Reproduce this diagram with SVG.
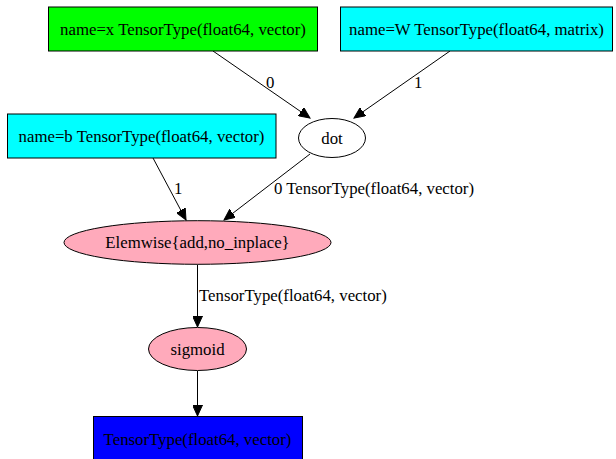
<svg xmlns="http://www.w3.org/2000/svg" width="616" height="459" viewBox="0 0 616 459">
<style>
text{font-family:"Liberation Serif","Times New Roman",serif;font-size:16.8px;fill:#000}
.n text{text-anchor:middle}
.box{stroke:#000;stroke-width:1}
.ell{stroke:#000;stroke-width:1}
.e path{fill:none;stroke:#000;stroke-width:1}
</style>
<defs>
<marker id="arr" markerUnits="userSpaceOnUse" markerWidth="12" markerHeight="10" refX="11" refY="5" orient="auto">
<path d="M0,0 L11,5 L0,10 Z" fill="#000" stroke="#000" stroke-width="1"/>
</marker>
</defs>
<rect width="616" height="459" fill="#fff"/>
<g class="e" id="edges">
<path d="M213,51 L310,118" marker-end="url(#arr)"/>
<text x="266" y="88">0</text>
<path d="M450,51 L354,118" marker-end="url(#arr)"/>
<text x="414" y="88">1</text>
<path d="M153,158 L186,220" marker-end="url(#arr)"/>
<text x="174" y="194">1</text>
<path d="M310,154 L224,220" marker-end="url(#arr)"/>
<text x="274" y="194">0 TensorType(float64, vector)</text>
<path d="M197.5,264.5 L197.5,327" marker-end="url(#arr)"/>
<text x="199" y="301">TensorType(float64, vector)</text>
<path d="M197.5,371 L197.5,416" marker-end="url(#arr)"/>
</g>
<g class="n" id="node-x">
<rect class="box" x="48.5" y="7" width="269" height="44" fill="#00ff00"/>
<text x="183" y="34.5">name=x TensorType(float64, vector)</text>
</g>
<g class="n" id="node-W">
<rect class="box" x="340.5" y="7" width="272" height="44" fill="#00ffff"/>
<text x="476.5" y="34.5">name=W TensorType(float64, matrix)</text>
</g>
<g class="n" id="node-b">
<rect class="box" x="7.5" y="114" width="268.5" height="44" fill="#00ffff"/>
<text x="141.5" y="141.5">name=b TensorType(float64, vector)</text>
</g>
<g class="n" id="node-dot">
<ellipse class="ell" cx="332" cy="138" rx="33.5" ry="19.5" fill="#fff"/>
<text x="332" y="143.5">dot</text>
</g>
<g class="n" id="node-add">
<ellipse class="ell" cx="197.5" cy="242.5" rx="133.5" ry="21.8" fill="#ffaabb"/>
<text x="197.5" y="248">Elemwise{add,no_inplace}</text>
</g>
<g class="n" id="node-sigmoid">
<ellipse class="ell" cx="197.5" cy="349" rx="49" ry="21.5" fill="#ffaabb"/>
<text x="197.5" y="354.5">sigmoid</text>
</g>
<g class="n" id="node-out">
<rect class="box" x="93.5" y="416.5" width="209" height="50" fill="#0000ff"/>
<text x="197.5" y="444.5">TensorType(float64, vector)</text>
</g>
</svg>
